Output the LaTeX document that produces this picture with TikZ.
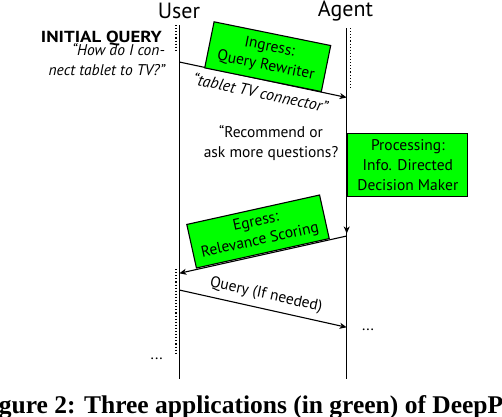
\documentclass[tikz,border=0pt]{standalone}
\usepackage{fontspec}
\usepackage{graphicx}
\setmainfont{PT Sans}
\newfontfamily\capfont{Liberation Serif}
\usetikzlibrary{arrows.meta}
\definecolor{boxgreen}{RGB}{0,255,0}
\begin{document}
\begin{tikzpicture}[x=1pt,y=-1pt,
  lifeline/.style={line width=1.1pt},
  msg/.style={line width=1.1pt,-{Stealth[length=7pt,width=6pt,inset=2pt]}},
  dotline/.style={line width=1.1pt,dotted},
  appbox/.style={draw,line width=1.1pt,fill=boxgreen,align=center,inner sep=0pt,
     font=\fontsize{15.5}{19}\selectfont},
  txt/.style={font=\fontsize{15.5}{20}\selectfont,align=center,inner sep=0pt},
  itxt/.style={font=\fontsize{15.5}{20}\selectfont\itshape,inner sep=0pt,anchor=base east},
  head/.style={font=\fontsize{22}{26}\selectfont,inner sep=0pt}]
\useasboundingbox (0,0) rectangle (502,416);
\clip (0,0) rectangle (502,416);
% actors
\node[head,anchor=base] (user) at (179,18) {User};
\node[head,anchor=base] (agent) at (345.5,16) {Agent};
\coordinate (ut) at (179.3,25);
\coordinate (ub) at (179.3,379);
\coordinate (at) at (346.7,28);
\coordinate (ab) at (346.7,379);
\draw[lifeline] (ut) -- (ub);
\draw[lifeline] (at) -- (ab);
% dotted lines
\coordinate (ud1) at (176,25); \coordinate (ud2) at (176,52);
\coordinate (ud3) at (176,269); \coordinate (ud4) at (176,353);
\coordinate (ad1) at (350.7,28); \coordinate (ad2) at (350.7,87);
\draw[dotline] (ud1) -- (ud2);
\draw[dotline] (ud3) -- (ud4);
\draw[dotline] (ad1) -- (ad2);
% initial query
\node[anchor=base east,inner sep=0pt,font=\fontsize{16}{18}\selectfont\bfseries] (iq) at (162,42.7) {\scalebox{1.18}[1]{INITIAL QUERY}};
\node[itxt] (iqt1) at (165,55.5) {“How do I con-};
\node[itxt] (iqt2) at (165,75) {nect tablet to TV?”};
% message 1
\coordinate (m1s) at (179.3,62);
\coordinate (m1e) at (346.7,97.5);
\draw[msg] (m1s) -- (m1e) node[midway,below=5pt,sloped,font=\fontsize{16}{18}\selectfont\itshape,inner sep=1pt] (m1l) {“tablet TV connector”};
\node[appbox,minimum width=119pt,minimum height=47pt,rotate=-11.5] (ingress) at (267.7,56.7) {Ingress:\\Query Rewriter};
% processing
\node[appbox,minimum width=120pt,minimum height=63.3pt,anchor=north west,font=\fontsize{15.5}{20}\selectfont] (proc) at (347.3,132.7) {Processing:\\Info. Directed\\Decision Maker};
\coordinate (pa) at (346.7,233.5);
\coordinate (pa0) at (346.7,200);
\draw[msg] (pa0) -- (pa);
\node[txt,anchor=base] (rec) at (271,157) {“Recommend or\\ask more questions?};
% message 2
\coordinate (m2s) at (346.7,236);
\coordinate (m2e) at (179.3,273.3);
\draw[msg] (m2s) -- (m2e);
\node[appbox,minimum width=136pt,minimum height=44.6pt,rotate=12.5] (egress) at (258,231.5) {Egress:\\Relevance Scoring};
% message 3
\coordinate (m3s) at (179.3,290);
\coordinate (m3e) at (346.7,327.3);
\draw[msg] (m3s) -- (m3e) node[midway,above=5pt,sloped,font=\fontsize{15.5}{18}\selectfont,inner sep=1pt] (m3l) {Query (If needed)};
\node[txt,anchor=base] (dots1) at (368,330) {...};
\node[txt,anchor=base] (dots2) at (156.7,359) {...};
% caption
\node[anchor=base west,inner sep=0pt,font=\capfont\bfseries\fontsize{25.5}{30}\selectfont] (cap) at (-24,413) {Figure 2: Three applications (in green) of DeepP};
\end{tikzpicture}
\end{document}
